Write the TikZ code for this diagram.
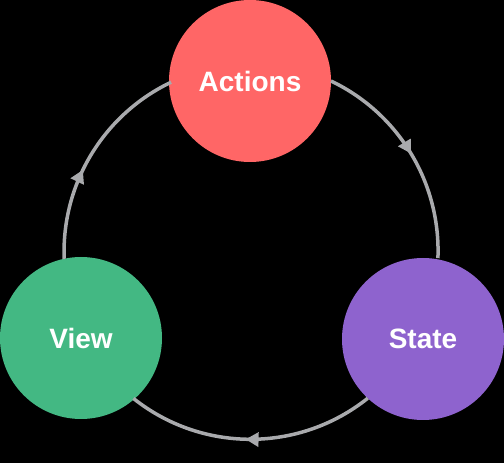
\documentclass[tikz,border=0pt]{standalone}
\usepackage{fontspec}
\setmainfont{Liberation Sans}
\usetikzlibrary{arrows.meta,decorations.markings}
\definecolor{actred}{HTML}{FF6666}
\definecolor{viewgreen}{HTML}{43B883}
\definecolor{statepurple}{HTML}{8E63CE}
\definecolor{ringgray}{HTML}{A9AAAD}
\tikzset{
  blob/.style={circle, minimum size=162pt, inner sep=0pt, outer sep=0pt,
    text=white, font=\fontsize{28pt}{30pt}\selectfont\bfseries},
  ring/.style={draw=ringgray, line width=3.5pt},
  midarrow/.style={postaction={decorate}, decoration={markings,
    mark=at position #1 with {\arrow{Triangle[length=13pt,width=14pt]}}}}
}
\begin{document}
\begin{tikzpicture}[x=1pt,y=1pt]
\fill[black] (0,0) rectangle (504,463);
\useasboundingbox (0,0) rectangle (504,463);
\node[blob, fill=actred] (actions) at (250,382) {Actions};
\node[blob, fill=viewgreen] (view) at (81,125) {View};
\node[blob, fill=statepurple] (state) at (423,124) {State};
% View -> Actions
\draw[ring, midarrow=0.42, ringgray] (view.102.8) arc[start angle=182.1, end angle=115.5, radius=188];
% Actions -> State
\draw[ring, midarrow=0.5, ringgray] (actions.-0.9) arc[start angle=64.5, end angle=-2.3, radius=188];
% State -> View
\draw[ring, midarrow=0.52, ringgray] (state.227.6) arc[start angle=-51.4, end angle=-128.5, radius=188];
\end{tikzpicture}
\end{document}
